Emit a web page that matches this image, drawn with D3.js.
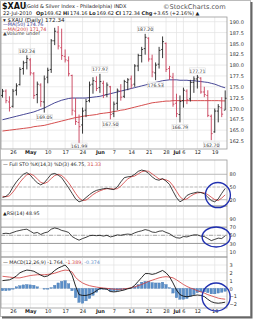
<!DOCTYPE html>
<html lang="en">
<head>
<meta charset="UTF-8">
<title>$XAU</title>
<script src="https://d3js.org/d3.v7.min.js"></script>
<style>
body { margin: 0; background: #fff; }
text { font-family: "DejaVu Sans", sans-serif; }
</style>
</head>
<body>
<script>
// daily bars, Apr 21 .. Jul 22 2010 (65 sessions)
var opens  = [173.0,174.0,171.5,170.5,174.2,175.5,179.2,180.6,181.2,178.0,173.2,175.4,171.5,177.2,179.0,185.6,187.6,184.0,182.0,181.0,177.6,169.4,166.8,166.2,169.6,171.8,175.6,176.2,174.8,175.8,173.2,175.0,168.8,171.2,174.0,172.8,176.0,176.8,175.6,179.8,182.2,183.8,186.2,181.4,178.2,180.2,183.6,185.0,179.2,177.2,171.2,168.6,171.8,174.0,172.2,176.0,176.8,177.0,173.8,173.0,168.2,164.6,169.4,170.2,169.62];
var highs  = [174.5,174.4,172.8,174.5,175.8,179.5,181.0,182.24,181.6,178.4,176.2,175.8,177.6,179.4,186.0,188.6,189.0,188.4,183.6,182.0,177.8,172.4,168.6,170.2,172.2,176.2,177.2,177.4,177.97,176.4,176.0,175.2,171.6,174.6,175.6,176.6,177.0,177.6,180.2,182.6,184.2,187.20,186.4,182.4,180.6,184.2,186.6,185.2,179.8,178.2,173.4,173.0,174.8,174.4,176.6,177.4,177.71,177.2,175.0,174.2,168.6,170.0,171.0,172.6,174.16];
var lows   = [172.5,171.2,169.3,170.2,173.0,175.3,177.8,179.0,177.6,172.2,171.2,170.4,169.05,175.8,178.2,184.6,183.6,181.2,180.6,177.4,168.4,166.2,161.99,164.2,168.0,171.4,173.4,174.0,173.6,172.4,172.6,167.50,168.0,169.6,171.8,172.4,174.2,174.6,175.0,178.6,180.6,182.4,180.8,177.2,176.53,179.2,181.6,178.4,176.6,170.4,168.0,166.79,170.2,171.0,171.6,173.6,174.6,173.4,172.6,168.0,162.70,164.4,166.8,168.0,169.62];
var closes = [174.0,171.8,170.2,174.0,175.2,179.0,180.5,181.5,178.2,173.0,175.6,171.6,176.8,178.8,185.6,187.8,184.4,182.2,181.2,178.0,169.6,167.0,165.8,169.4,171.6,175.4,176.4,174.6,176.2,173.0,175.4,168.6,171.0,174.2,172.6,176.2,176.6,175.4,179.8,182.2,183.6,186.4,181.4,178.4,180.0,183.4,185.4,179.0,177.4,171.0,168.8,171.6,174.2,172.0,176.0,176.8,177.2,173.8,173.2,168.4,164.2,169.4,170.4,168.69,172.34];
var ma50   = [167.4,167.6,167.8,168.0,168.2,168.4,168.6,168.8,169.0,169.2,169.5,169.8,170.1,170.5,170.9,171.3,171.6,171.9,172.1,172.3,172.4,172.4,172.4,172.4,172.4,172.5,172.6,172.7,172.8,173.0,173.2,173.4,173.6,173.8,174.0,174.2,174.4,174.6,174.8,175.0,175.2,175.4,175.6,175.8,176.0,176.2,176.4,176.5,176.6,176.6,176.6,176.5,176.5,176.5,176.4,176.4,176.3,176.2,176.1,176.0,175.8,175.6,175.3,175.0,174.76];
var ma200  = [164.8,164.9,165.0,165.1,165.2,165.3,165.4,165.5,165.6,165.8,165.9,166.0,166.1,166.3,166.5,166.7,166.9,167.1,167.3,167.5,167.7,167.9,168.0,168.2,168.3,168.4,168.5,168.6,168.8,168.9,169.0,169.1,169.3,169.4,169.6,169.7,169.9,170.1,170.3,170.5,170.7,170.9,171.1,171.3,171.4,171.5,171.6,171.7,171.7,171.8,171.8,171.8,171.8,171.8,171.8,171.8,171.8,171.8,171.8,171.8,171.8,171.8,171.8,171.75,171.74];

var stoK = [25,28,35,50,62,72,80,84,78,68,60,55,60,70,80,82,78,72,60,48,35,22,15,18,25,32,38,42,44,46,47,45,44,50,62,72,74,75,80,87,90,88,82,74,68,66,70,64,56,40,25,15,20,30,34,36,38,37,34,26,18,15,22,35,46.75];
var stoD = [28,27,29,38,49,61,71,79,81,77,69,61,58,62,70,77,80,77,70,60,48,35,24,18,19,25,32,37,41,44,46,46,45,46,52,61,69,74,76,81,86,88,87,81,75,69,68,67,63,53,40,27,20,22,28,33,36,37,36,32,26,20,18,24,31.33];
var rsi  = [54,55,54,57,60,62,64,65,60,55,57,52,56,58,65,68,66,62,60,57,47,42,38,42,45,49,50,49,50,48,50,46,48,51,50,52,53,52,56,59,61,64,62,58,57,60,61,57,54,48,44,43,47,46,49,51,51,48,47,42,37,40,43,42,48.95];
var macd = [1.0,1.05,1.1,1.3,1.6,2.0,2.2,2.35,2.3,2.2,1.95,1.7,1.5,1.6,1.9,2.3,2.6,2.8,3.0,2.5,1.7,0.3,-0.8,-0.9,-0.9,-0.8,-0.6,-0.3,0.0,-0.05,-0.1,-0.4,-0.45,-0.4,-0.3,-0.2,-0.05,0.05,0.4,0.9,1.4,1.9,1.9,1.8,1.9,2.1,2.3,2.0,1.5,0.7,-0.2,-0.8,-1.0,-1.07,-1.0,-0.9,-0.85,-0.9,-1.05,-1.4,-1.7,-1.85,-1.9,-1.85,-1.764];
var signal = [1.55,1.5,1.45,1.4,1.35,1.35,1.45,1.55,1.65,1.7,1.75,1.75,1.75,1.8,1.85,1.95,2.1,2.25,2.35,2.3,2.1,1.4,1.0,0.7,0.5,0.35,0.25,0.17,0.1,0.05,0.0,-0.04,-0.1,-0.12,-0.1,-0.05,0.0,0.1,0.2,0.35,0.5,0.7,0.9,1.05,1.2,1.35,1.45,1.5,1.45,1.35,1.1,0.8,0.5,0.25,0.05,-0.1,-0.3,-0.45,-0.6,-0.8,-0.95,-1.1,-1.25,-1.33,-1.389];
var hist = [-0.3,-0.3,-0.25,-0.1,0.2,0.35,0.45,0.5,0.45,0.4,0.2,0.0,-0.1,-0.1,0.1,0.4,0.7,0.9,1.0,0.6,-0.3,-1.2,-1.8,-1.9,-1.6,-1.3,-0.9,-0.5,-0.15,-0.1,-0.1,-0.35,-0.35,-0.3,-0.2,-0.15,-0.05,0.05,0.2,0.5,0.8,0.9,0.9,0.75,0.7,0.7,0.8,0.5,0.1,-0.6,-1.2,-1.4,-1.4,-1.3,-1.05,-0.8,-0.55,-0.45,-0.45,-0.55,-0.7,-0.7,-0.6,-0.5,-0.374];

var tickIdx  = [3,8,13,18,23,28,32,37,42,47,50,52,56,61];
var tickText = ["26","May","10","17","24","Jun","7","14","21","28","Jul","6","12","19"];
var months = ["May","Jun","Jul"];

var priceTicks = [162.5,165,167.5,170,172.5,175,177.5,180,182.5,185,187.5,190];
var stoTicks = [20,50,80];
var rsiTicks = [10,30,50,70,90];
var macdTicks = [-2,-1,0,1,2,3];

// labelled swing highs / lows
var markIdx  = [7,12,22,28,31,41,44,51,56,60];
var markSide = ["hi","lo","lo","hi","lo","hi","lo","lo","hi","lo"];

var RED = "#c8405a", BLUE = "#33338a", MRED = "#d03a3a";

var svg = d3.select("body").append("svg")
    .attr("width", 254)
    .attr("height", 320);

// page frame with shadow
svg.append("rect").attr("x", 0.5).attr("y", 0.5).attr("width", 250).attr("height", 316)
    .attr("fill", "#fff").attr("stroke", "#bbb");
svg.append("path").attr("d", "M251.5,2V317.5H2").attr("fill", "none").attr("stroke", "#666").attr("stroke-width", 2);

var L = 1, R = 227;
var x = d3.scaleLinear().domain([0, 64]).range([2.5, 225.2]);

var yP = d3.scaleLinear().domain([162.5, 190]).range([141, 21.7]);
var yS = d3.scaleLinear().domain([20, 80]).range([199.7, 174.3]);
var yR = d3.scaleLinear().domain([10, 90]).range([251.6, 219]);
var yM = d3.scaleLinear().domain([-2, 3]).range([304, 265]);

var panels = [
    { top: 17, bottom: 149, y: yP, ticks: priceTicks, fmt: d3.format(".1f") },
    { top: 160, bottom: 206, y: yS, ticks: stoTicks, fmt: d3.format("d") },
    { top: 206, bottom: 257, y: yR, ticks: rsiTicks, fmt: d3.format("d") },
    { top: 257, bottom: 308, y: yM, ticks: macdTicks, fmt: d3.format("d") }
];

panels.forEach(function (p) {
    var g = svg.append("g");
    g.selectAll(".vg").data(tickIdx).enter().append("line")
        .attr("x1", function (d) { return x(d); }).attr("x2", function (d) { return x(d); })
        .attr("y1", p.top).attr("y2", p.bottom)
        .attr("stroke", "#e2e2e2").attr("stroke-width", 0.7);
    g.selectAll(".hg").data(p.ticks).enter().append("line")
        .attr("x1", L).attr("x2", R)
        .attr("y1", function (d) { return p.y(d); }).attr("y2", function (d) { return p.y(d); })
        .attr("stroke", "#e2e2e2").attr("stroke-width", 0.7);

    var ax = svg.append("g").attr("transform", "translate(" + R + ",0)")
        .call(d3.axisRight(p.y).tickValues(p.ticks).tickFormat(p.fmt).tickSize(0).tickPadding(2.5));
    ax.select(".domain").remove();
    ax.selectAll("text").attr("font-size", 5).attr("fill", "#333").attr("font-family", "DejaVu Sans");

    svg.append("rect").attr("x", L).attr("y", p.top).attr("width", R - L).attr("height", p.bottom - p.top)
        .attr("fill", "none").attr("stroke", "#9a9a9a").attr("stroke-width", 0.8);
});

// reference lines in STO / RSI
function hline(y, v, color, dash) {
    svg.append("line").attr("x1", L).attr("x2", R).attr("y1", y(v)).attr("y2", y(v))
        .attr("stroke", color).attr("stroke-width", 0.7).attr("stroke-dasharray", dash);
}
hline(yS, 80, "#aaa", null);
hline(yS, 20, "#aaa", null);
hline(yS, 50, "#aaa", "3,1.5");
hline(yR, 70, "#777", null);
hline(yR, 30, "#777", null);
hline(yR, 50, "#888", "4,1.5,1,1.5");

// date axes
function dateAxis(yPos) {
    var ax = svg.append("g").attr("transform", "translate(0," + yPos + ")")
        .call(d3.axisBottom(x).tickValues(tickIdx).tickSize(0).tickPadding(0.5)
            .tickFormat(function (d, i) { return tickText[i]; }));
    ax.select(".domain").remove();
    ax.selectAll("text").attr("font-size", 5).attr("fill", "#222").attr("font-family", "DejaVu Sans")
        .attr("font-weight", function (d, i) { return months.indexOf(tickText[i]) >= 0 ? "bold" : null; });
}
dateAxis(150);
dateAxis(309);

// moving averages
var line = function (y) { return d3.line().x(function (d, i) { return x(i); }).y(function (d) { return y(d); }); };
svg.append("path").attr("d", line(yP)(ma200)).attr("fill", "none").attr("stroke", MRED).attr("stroke-width", 0.9);
svg.append("path").attr("d", line(yP)(ma50)).attr("fill", "none").attr("stroke", BLUE).attr("stroke-width", 0.9);

// OHLC bars
var bars = svg.append("g").selectAll("g").data(closes).enter().append("g")
    .attr("stroke", function (d, i) { return d >= (i ? closes[i - 1] : opens[0]) ? "#222" : RED; })
    .attr("stroke-width", 0.9);
bars.append("line").attr("x1", function (d, i) { return x(i); }).attr("x2", function (d, i) { return x(i); })
    .attr("y1", function (d, i) { return yP(highs[i]); }).attr("y2", function (d, i) { return yP(lows[i]); });
bars.append("line").attr("x1", function (d, i) { return x(i) - 1.4; }).attr("x2", function (d, i) { return x(i); })
    .attr("y1", function (d, i) { return yP(opens[i]); }).attr("y2", function (d, i) { return yP(opens[i]); });
bars.append("line").attr("x1", function (d, i) { return x(i); }).attr("x2", function (d, i) { return x(i) + 1.4; })
    .attr("y1", function (d) { return yP(d); }).attr("y2", function (d) { return yP(d); });

// swing labels
markIdx.forEach(function (k, j) {
    var hi = markSide[j] === "hi";
    var v = hi ? highs[k] : lows[k];
    var ty = hi ? yP(v) - 2.5 : Math.min(yP(v) + 6.5, 147.6);
    var g = svg.append("g");
    g.append("rect").attr("x", x(k) - 8).attr("y", ty - 4.6).attr("width", 16).attr("height", 5.8)
        .attr("fill", "#fff").attr("fill-opacity", 0.85).attr("stroke", "#ccc").attr("stroke-width", 0.4);
    g.append("text").attr("x", x(k)).attr("y", ty).attr("text-anchor", "middle")
        .attr("font-size", 4.6).attr("fill", "#333").text(v.toFixed(2));
});

// STO
svg.append("path").attr("d", line(yS)(stoD)).attr("fill", "none").attr("stroke", MRED).attr("stroke-width", 0.8);
svg.append("path").attr("d", line(yS)(stoK)).attr("fill", "none").attr("stroke", "#111").attr("stroke-width", 0.8);

// RSI
svg.append("path").attr("d", line(yR)(rsi)).attr("fill", "none").attr("stroke", "#111").attr("stroke-width", 0.8);

// MACD
svg.append("g").selectAll("rect").data(hist).enter().append("rect")
    .attr("x", function (d, i) { return x(i) - 1.25; })
    .attr("width", 2.5)
    .attr("y", function (d) { return Math.min(yM(0), yM(d)); })
    .attr("height", function (d) { return Math.abs(yM(d) - yM(0)); })
    .attr("fill", "#5a8ec8").attr("stroke", "#3b6ea8").attr("stroke-width", 0.3);
svg.append("path").attr("d", line(yM)(signal)).attr("fill", "none").attr("stroke", MRED).attr("stroke-width", 0.8);
svg.append("path").attr("d", line(yM)(macd)).attr("fill", "none").attr("stroke", "#111").attr("stroke-width", 0.9);

// header
svg.append("text").attr("x", 2).attr("y", 9).attr("font-family", "Liberation Sans").attr("font-weight", "bold")
    .attr("font-size", 8).attr("fill", "#111").text("$XAU");
svg.append("text").attr("x", 25).attr("y", 8).attr("font-family", "Liberation Sans")
    .attr("font-size", 5).attr("fill", "#222").text("(Gold & Silver Index - Philadelphia) INDX");
svg.append("text").attr("x", 163).attr("y", 8.5).attr("font-family", "Liberation Sans")
    .attr("font-size", 6.6).attr("fill", "#555").text("\u00a9StockCharts.com");

var quote = [["22-Jul-2010", 3, false], ["Op", 36, true], ["169.62", 44, false], ["Hi", 63, true],
    ["174.16", 70, false], ["Lo", 89, true], ["169.62", 96.5, false], ["Cl", 115.5, true],
    ["172.34", 122.5, false], ["Chg", 141.5, true], ["+3.65 (+2.16%) \u25b2", 153, false]];
quote.forEach(function (q) {
    svg.append("text").attr("x", q[1]).attr("y", 15).attr("font-family", "Liberation Sans")
        .attr("font-size", 5).attr("font-weight", q[2] ? "bold" : null).attr("fill", "#222").text(q[0]);
});

// legends
function legend(xp, yp, parts, size) {
    var t = svg.append("text").attr("x", xp).attr("y", yp).attr("font-size", size || 4.8);
    parts.forEach(function (p) { t.append("tspan").attr("fill", p[1]).text(p[0]); });
}
legend(3, 21.5, [["\u25be $XAU (Daily) 172.34", "#222"]], 5.6);
legend(3, 26, [["\u2014", BLUE], ["MA(50) 174.76", BLUE]]);
legend(3, 30.5, [["\u2014", MRED], ["MA(200) 171.74", MRED]]);
legend(3, 35, [["\u25b2Volume undef", "#444"]]);
legend(3, 166, [["\u2014 Full STO %K(14,3) %D(3) 46.75, ", "#222"], ["31.33", MRED]], 4.8);
legend(3, 215, [["\u25b2RSI(14) 48.95", "#222"]], 4.8);
legend(3, 264, [["\u2014 MACD(12,26,9) -1.764, ", "#222"], ["-1.389", MRED], [", ", "#222"], ["-0.374", "#5a8ec8"]], 4.8);

// hand-drawn circles on the last sessions
var rings = [[yS, 61.9, 31, 12.5, 12.5], [yR, 61.4, 46, 14, 10], [yM, 61.4, -1.1, 14, 14]];
rings.forEach(function (r) {
    svg.append("ellipse").attr("cx", x(r[1])).attr("cy", r[0](r[2])).attr("rx", r[3]).attr("ry", r[4])
        .attr("fill", "none").attr("stroke", "#2030b0").attr("stroke-width", 1.4);
});
</script>
</body>
</html>
